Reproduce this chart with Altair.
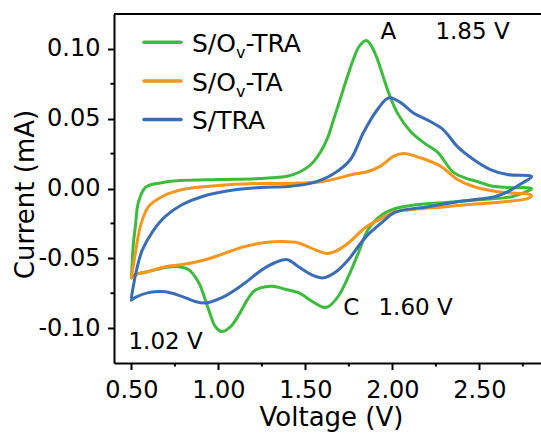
import altair as alt
import pandas as pd

# Series: names (main text, subscript, suffix), colours
series_names = ["S/Ov-TRA", "S/Ov-TA", "S/TRA"]
legend_main = ["S/O", "S/O", "S/TRA"]
legend_sub = ["v", "v", ""]
legend_tail = ["-TRA", "-TA", ""]
series_colors = ["#3dbb3d", "#f7961d", "#3b6db7"]

# Cyclic voltammograms: anodic sweep 0.5 -> 2.8 V, then cathodic sweep back to 0.5 V
green_v = [0.50, 0.511, 0.523, 0.54, 0.58, 0.667, 0.782, 1.01, 1.24, 1.40, 1.47, 1.53, 1.586,
           1.63, 1.661, 1.70, 1.741, 1.78, 1.81, 1.85, 1.88, 1.914, 1.95, 1.98, 2.029, 2.103,
           2.178, 2.259, 2.351, 2.42, 2.489, 2.563, 2.661, 2.80,
           2.69, 2.494, 2.305, 2.115, 2.017, 1.943, 1.862, 1.805, 1.747, 1.69, 1.632, 1.60,
           1.54, 1.46, 1.385, 1.31, 1.241, 1.20, 1.167, 1.115, 1.07, 1.02, 0.98, 0.95, 0.92,
           0.885, 0.828, 0.77, 0.695, 0.598, 0.523, 0.50]
green_i = [-0.064, -0.040, -0.027, -0.010, 0.0007, 0.004, 0.0057, 0.0065, 0.0072, 0.009, 0.012,
           0.017, 0.026, 0.037, 0.049, 0.064, 0.080, 0.094, 0.102, 0.106, 0.102, 0.0925, 0.079,
           0.068, 0.054, 0.041, 0.033, 0.026, 0.0115, 0.0075, 0.005, 0.002, 0.0007, 0.0,
           -0.0057, -0.008, -0.010, -0.012, -0.0143, -0.0186, -0.029, -0.046, -0.063, -0.077,
           -0.0846, -0.085, -0.081, -0.0746, -0.0722, -0.070, -0.0712, -0.074, -0.0796, -0.091,
           -0.099, -0.1025, -0.0985, -0.089, -0.078, -0.067, -0.058, -0.056, -0.0566, -0.0595,
           -0.0617, -0.064]

orange_v = [0.50, 0.523, 0.552, 0.598, 0.678, 0.793, 0.983, 1.241, 1.402, 1.598, 1.787, 1.856,
            1.931, 2.006, 2.063, 2.161, 2.276, 2.374, 2.466, 2.563, 2.661, 2.782, 2.80,
            2.782, 2.69, 2.494, 2.305, 2.115, 2.017, 1.943, 1.845, 1.747, 1.672, 1.626, 1.557,
            1.46, 1.368, 1.27, 1.138, 1.023, 0.925, 0.793, 0.695, 0.598, 0.523, 0.50]
orange_i = [-0.064, -0.046, -0.027, -0.013, -0.0057, -0.0007, 0.002, 0.0036, 0.0036, 0.005,
            0.0105, 0.012, 0.016, 0.023, 0.025, 0.022, 0.016, 0.0065, 0.0014, -0.0014, -0.003,
            -0.004, -0.005,
            -0.007, -0.009, -0.011, -0.013, -0.015, -0.0165, -0.021, -0.028, -0.039, -0.045,
            -0.0466, -0.044, -0.039, -0.038, -0.0387, -0.042, -0.047, -0.051, -0.0545, -0.056,
            -0.0595, -0.0617, -0.064]

blue_v = [0.50, 0.511, 0.534, 0.563, 0.621, 0.695, 0.793, 0.908, 1.04, 1.241, 1.402, 1.54,
          1.655, 1.759, 1.833, 1.914, 1.98, 2.046, 2.121, 2.218, 2.293, 2.374, 2.466, 2.563,
          2.661, 2.80,
          2.747, 2.667, 2.592, 2.402, 2.207, 2.017, 1.943, 1.845, 1.747, 1.672, 1.603, 1.54,
          1.46, 1.397, 1.328, 1.253, 1.138, 1.023, 0.925, 0.868, 0.793, 0.695, 0.598, 0.523,
          0.50]
blue_i = [-0.078, -0.070, -0.056, -0.044, -0.031, -0.020, -0.0115, -0.0057, -0.002, 0.0007,
          0.0014, 0.004, 0.010, 0.0208, 0.040, 0.0566, 0.065, 0.0617, 0.054, 0.048, 0.042,
          0.030, 0.0208, 0.0136, 0.010, 0.0086,
          0.004, -0.002, -0.0057, -0.009, -0.013, -0.017, -0.024, -0.035, -0.051, -0.060,
          -0.064, -0.062, -0.056, -0.051, -0.053, -0.058, -0.069, -0.078, -0.082, -0.081,
          -0.0774, -0.074, -0.0746, -0.078, -0.080]

series_volts = [green_v, orange_v, blue_v]
series_amps = [green_i, orange_i, blue_i]

# Peak annotations
ann_labels = ["A", "1.85 V", "C", "1.60 V", "1.02 V"]
ann_volts = [1.931, 2.247, 1.718, 1.92, 0.483]
ann_amps = [0.1068, 0.1068, -0.0903, -0.0903, -0.1147]

# Axis ticks
x_major = [0.5, 1.0, 1.5, 2.0, 2.5]
x_minor = [0.75, 1.25, 1.75, 2.25, 2.75]
y_major = [-0.10, -0.05, 0.0, 0.05, 0.10]
y_minor = [-0.075, -0.025, 0.025, 0.075]

W, H = 427, 349
FONT = "DejaVu Sans"

x_scale = alt.Scale(domain=[0.4, 2.854], nice=False, zero=False)
y_scale = alt.Scale(domain=[-0.125, 0.125], nice=False, zero=False)

x_axis = alt.Axis(
    values=x_major, format=".2f", grid=False,
    domainColor="black", domainWidth=2, tickColor="black", tickWidth=2, tickSize=6.5,
    labelFont=FONT, labelFontSize=24, labelColor="black", labelPadding=8.5,
    title="Voltage (V)", titleFont=FONT, titleFontSize=26, titleFontWeight="normal",
    titleColor="black", titleX=217, titleY=62, titleAlign="center", titleBaseline="alphabetic",
)
y_axis = alt.Axis(
    values=y_major, grid=False,
    labelExpr="(datum.value < 0 ? '-' : '') + format(abs(datum.value), '.2f')",
    domainColor="black", domainWidth=2, tickColor="black", tickWidth=2, tickSize=6.5,
    labelFont=FONT, labelFontSize=24, labelColor="black", labelPadding=7.5,
    title="Current (mA)", titleFont=FONT, titleFontSize=26, titleFontWeight="normal",
    titleColor="black", titleX=-81, titleY=180, titleAngle=270, titleAlign="center",
    titleBaseline="alphabetic",
)


def X(field):
    return alt.X(field, type="quantitative", scale=x_scale, axis=x_axis)


def Y(field):
    return alt.Y(field, type="quantitative", scale=y_scale, axis=y_axis)


layers = []

# Voltammogram loops, drawn in series order
for name, color, volts, amps in zip(series_names, series_colors, series_volts, series_amps):
    df = pd.DataFrame({"series": name, "voltage": volts, "current": amps,
                       "step": list(range(len(volts)))})
    layers.append(
        alt.Chart(df).mark_line(strokeWidth=3, interpolate="catmull-rom", color=color,
                                strokeJoin="round", strokeCap="round")
        .encode(x=X("voltage"), y=Y("current"), order="step:Q")
    )

# Minor ticks
layers.append(
    alt.Chart(pd.DataFrame({"v": x_minor})).mark_rule(color="black", strokeWidth=2)
    .encode(x=X("v"), y=alt.value(H), y2=alt.value(H + 3.5))
)
layers.append(
    alt.Chart(pd.DataFrame({"v": y_minor})).mark_rule(color="black", strokeWidth=2)
    .encode(y=Y("v"), x=alt.value(0), x2=alt.value(-3.5))
)

# Top frame line
layers.append(
    alt.Chart(pd.DataFrame({"edge": [0]})).mark_rule(color="black", strokeWidth=2)
    .encode(x=alt.value(0), x2=alt.value(W), y=alt.value(0))
)

# Peak annotations
ann_df = pd.DataFrame({"label": ann_labels, "voltage": ann_volts, "current": ann_amps})
layers.append(
    alt.Chart(ann_df).mark_text(align="left", baseline="alphabetic", font=FONT, fontSize=23,
                                color="black")
    .encode(x=X("voltage"), y=Y("current"), text="label:N")
)

# Legend: line sample, then label with subscripted "v"
LEG_SIZE, SUB_SIZE = 25, 16
ADV = {"S": 0.635, "/": 0.337, "O": 0.787, "T": 0.611, "R": 0.695, "A": 0.684, "-": 0.361,
       "v": 0.592}


def text_width(s, size):
    return sum(ADV.get(ch, 0.6) for ch in s) * size


row_y = [28.3, 67.0, 105.5]
for main, sub, tail, color, ry in zip(legend_main, legend_sub, legend_tail, series_colors, row_y):
    entry = pd.DataFrame({"main": [main], "sub": [sub], "tail": [tail]})
    base = alt.Chart(entry)
    layers.append(
        base.mark_rule(color=color, strokeWidth=3.5, strokeCap="round")
        .encode(x=alt.value(30), x2=alt.value(67), y=alt.value(ry))
    )
    x0 = 78
    layers.append(
        base.mark_text(align="left", baseline="alphabetic", font=FONT, fontSize=LEG_SIZE,
                       color="black")
        .encode(x=alt.value(x0), y=alt.value(ry + 9.7), text="main:N")
    )
    if sub:
        x1 = x0 + text_width(main, LEG_SIZE)
        layers.append(
            base.mark_text(align="left", baseline="alphabetic", font=FONT, fontSize=SUB_SIZE,
                           color="black")
            .encode(x=alt.value(x1), y=alt.value(ry + 15.5), text="sub:N")
        )
        x2 = x1 + text_width(sub, SUB_SIZE)
        layers.append(
            base.mark_text(align="left", baseline="alphabetic", font=FONT, fontSize=LEG_SIZE,
                           color="black")
            .encode(x=alt.value(x2), y=alt.value(ry + 9.7), text="tail:N")
        )

chart = alt.layer(*layers).properties(
    width=W, height=H,
    padding={"left": 114, "top": 14, "right": 0, "bottom": 71},
    autosize=alt.AutoSizeParams(type="none"),
).configure_view(stroke=None).configure(background="white")

chart.save("out.html", embed_options={"renderer": "svg", "actions": False})
